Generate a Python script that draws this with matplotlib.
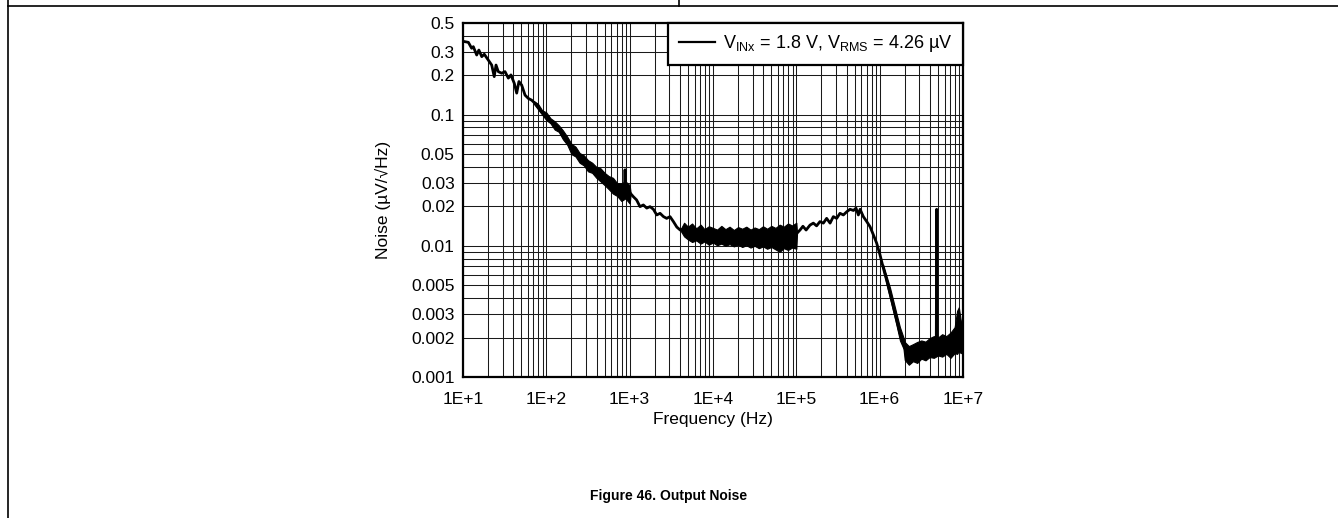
import numpy as np
import matplotlib
matplotlib.use("Agg")
import matplotlib.pyplot as plt
from matplotlib.lines import Line2D

plt.rcParams['font.family'] = ['Liberation Sans', 'DejaVu Sans']
plt.rcParams['mathtext.fontset'] = 'custom'
plt.rcParams['mathtext.rm'] = 'Liberation Sans'
plt.rcParams['mathtext.it'] = 'Liberation Sans'

# Output noise spectral density (uV/rtHz) versus frequency (Hz)
freq_hz = [
    10.6, 11.6, 12.7, 13.3, 14.6, 15.5, 16.8, 18.0, 20.1, 22.1, 23.7, 24.9,
    26.5, 29.1, 31.9, 35.0, 37.6, 41.3, 44.1, 46.9, 50.6, 55.5, 60.9, 66.7,
    76.2, 87.6, 100, 139, 200, 291, 417, 603, 794, 870, 880, 890, 1000,
    1107, 1210, 1330, 1460, 1603, 1754, 1925, 2113, 2317, 2545, 2780, 3050,
    3350, 3680, 4040, 4430, 6980, 11070, 17500, 27800, 44000, 63800, 91000,
    102000, 110700, 120000, 131000, 146000, 160000, 175000, 192000, 211000,
    231000, 254000, 278000, 305000, 334000, 367000, 403000, 441000, 485000,
    520000, 555000, 582000, 637000, 700000, 766000, 842000, 921000,
    1010000, 1107000, 1210000, 1330000, 1460000, 1600000, 1750000, 1930000,
    2100000, 2520000, 3330000, 4400000, 4780000, 4830000, 4880000,
    5860000, 7000000, 8000000, 9600000, 10000000,
]
noise_uv = [
    0.360, 0.356, 0.321, 0.330, 0.285, 0.311, 0.277, 0.289, 0.261, 0.239, 0.195, 0.239,
    0.213, 0.207, 0.213, 0.190, 0.201, 0.173, 0.146, 0.179, 0.168, 0.141, 0.133, 0.129,
    0.119, 0.105, 0.097, 0.0787, 0.0555, 0.0438, 0.0357, 0.0291, 0.0252, 0.0255, 0.038, 0.026, 0.0255,
    0.0237, 0.0224, 0.0199, 0.0205, 0.0194, 0.0199, 0.0190, 0.0172, 0.0177, 0.0167, 0.0162, 0.0167,
    0.0153, 0.0139, 0.0132, 0.0134, 0.0125, 0.0121, 0.0120, 0.0118, 0.0114, 0.0114, 0.0118,
    0.0125, 0.0132, 0.0141, 0.0132, 0.0144, 0.0149, 0.0142, 0.0153, 0.0149,
    0.0162, 0.0149, 0.0167, 0.0162, 0.0177, 0.0172, 0.0182, 0.0190, 0.0186,
    0.0194, 0.0172, 0.0190, 0.0167, 0.0153, 0.0140, 0.0121, 0.01047,
    0.00853, 0.00675, 0.0055, 0.00435, 0.00344, 0.00272, 0.00216, 0.00181,
    0.0015, 0.00154, 0.00166, 0.00178, 0.0018, 0.019, 0.0018,
    0.00182, 0.00182, 0.0021, 0.0020, 0.0019,
]

# Spread of the measured trace in its noisy stretches (lower / upper envelope)
band1_freq = [70.8, 79.4, 89.1, 100, 112, 126, 141, 158, 178, 200, 224, 251, 282,
              316, 355, 398, 447, 501, 562, 631, 708, 794, 891, 1000, 1030]
band1_lo = [0.121, 0.110, 0.100, 0.091, 0.086, 0.077, 0.074, 0.065, 0.059, 0.050, 0.048,
            0.043, 0.041, 0.037, 0.036, 0.033, 0.031, 0.029, 0.027, 0.025, 0.024, 0.022,
            0.023, 0.021, 0.025]
band1_hi = [0.127, 0.121, 0.108, 0.104, 0.094, 0.089, 0.083, 0.076, 0.068, 0.060, 0.057,
            0.051, 0.049, 0.045, 0.043, 0.040, 0.039, 0.036, 0.034, 0.033, 0.030, 0.030,
            0.031, 0.029, 0.025]

band2_freq = [4040, 4500, 5000, 5600, 6300, 7100, 7900, 8900, 10000, 11200, 12600,
              14100, 15800, 17800, 20000, 22400, 25100, 28200, 31600, 35500, 39800,
              44700, 50100, 56200, 63100, 70800, 79400, 89100, 100000, 102000]
band2_lo = [0.0132, 0.0118, 0.0112, 0.0107, 0.0110, 0.0104, 0.0108, 0.0102, 0.0106,
            0.0101, 0.0104, 0.0100, 0.0103, 0.0099, 0.0102, 0.0098, 0.0101, 0.0097,
            0.0100, 0.0096, 0.0099, 0.0095, 0.0098, 0.0094, 0.0090, 0.0096, 0.0093,
            0.0097, 0.0095, 0.0125]
band2_hi = [0.0132, 0.0150, 0.0140, 0.0148, 0.0136, 0.0145, 0.0134, 0.0141, 0.0137,
            0.0133, 0.0142, 0.0134, 0.0140, 0.0132, 0.0139, 0.0135, 0.0140, 0.0133,
            0.0138, 0.0134, 0.0141, 0.0135, 0.0142, 0.0137, 0.0145, 0.0140, 0.0148,
            0.0143, 0.0150, 0.0125]

band3_freq = [1100000, 1330000, 1600000, 1750000, 1930000, 2000000, 2240000, 2510000,
              2820000, 3160000, 3550000, 3980000, 4470000, 5010000, 5620000, 6310000,
              7080000, 7940000, 8500000, 8910000, 9400000, 10000000]
band3_lo = [0.0066, 0.0040, 0.00245, 0.0019, 0.00165, 0.00135, 0.00124, 0.00132,
            0.00128, 0.00138, 0.00134, 0.00142, 0.00140, 0.00146, 0.00143, 0.00150,
            0.00140, 0.00152, 0.00150, 0.00158, 0.00152, 0.0016]
band3_hi = [0.0072, 0.0048, 0.0030, 0.0024, 0.0020, 0.00185, 0.00172, 0.00178,
            0.00185, 0.00190, 0.00186, 0.00198, 0.00205, 0.00200, 0.00212, 0.00205,
            0.00218, 0.00240, 0.0032, 0.0034, 0.0027, 0.0026]

x_ticks = [1e1, 1e2, 1e3, 1e4, 1e5, 1e6, 1e7]
x_tick_labels = ["1E+1", "1E+2", "1E+3", "1E+4", "1E+5", "1E+6", "1E+7"]
y_ticks = [0.001, 0.002, 0.003, 0.005, 0.01, 0.02, 0.03, 0.05, 0.1, 0.2, 0.3, 0.5]
y_tick_labels = ["0.001", "0.002", "0.003", "0.005", "0.01", "0.02", "0.03",
                 "0.05", "0.1", "0.2", "0.3", "0.5"]
legend_label = r"$\mathregular{V_{INx}}$ = 1.8 V, $\mathregular{V_{RMS}}$ = 4.26 µV"
caption = "Figure 46. Output Noise"

FS = 12.5

fig = plt.figure(figsize=(13.38, 5.18), dpi=100)
ax = fig.add_axes([463 / 1338, 1 - 377 / 518, 500 / 1338, 354 / 518])

ax.set_xscale("log")
ax.set_yscale("log")
ax.set_xlim(1e1, 1e7)
ax.set_ylim(0.001, 0.5)

# minor grid positions: every 1..9 multiple in each decade
x_minor = [m * 10.0 ** d for d in range(1, 7) for m in range(2, 10)]
y_minor = [m * 10.0 ** d for d in range(-3, 0) for m in range(1, 10)
           if 0.001 <= m * 10.0 ** d <= 0.5 and not any(np.isclose(m * 10.0 ** d, y_ticks))]

ax.set_xticks(x_ticks)
ax.set_xticklabels(x_tick_labels)
ax.set_xticks(x_minor, minor=True)
ax.set_yticks(y_ticks)
ax.set_yticklabels(y_tick_labels)
ax.set_yticks(y_minor, minor=True)
ax.tick_params(which="both", length=0)
ax.tick_params(axis="x", which="major", labelsize=FS, pad=10.5)
ax.tick_params(axis="y", which="major", labelsize=FS, pad=6)
ax.tick_params(which="minor", labelbottom=False, labelleft=False)
ax.grid(True, which="both", color="#1a1a1a", linewidth=0.75)
ax.set_axisbelow(True)

for sp in ax.spines.values():
    sp.set_linewidth(1.6)
    sp.set_color("black")
    sp.set_zorder(5)

for bf, lo, hi in ((band1_freq, band1_lo, band1_hi),
                   (band2_freq, band2_lo, band2_hi),
                   (band3_freq, band3_lo, band3_hi)):
    ax.fill_between(bf, lo, hi, color="black", linewidth=0.8, edgecolor="black", zorder=3)

ax.plot(freq_hz, noise_uv, color="black", linewidth=2.0, zorder=4, label=legend_label)

ax.set_xlabel("Frequency (Hz)", fontsize=FS)
ax.set_ylabel("Noise (µV/√Hz)", fontsize=FS)
ax.xaxis.set_label_coords(0.5, -0.1)
ax.yaxis.set_label_coords(-0.144, 0.5)

leg = ax.legend(loc="upper right", borderaxespad=0, fontsize=13.0, frameon=True,
                fancybox=False, edgecolor="black", framealpha=1,
                handlelength=2.0, handletextpad=0.45, borderpad=0.58)
leg.get_frame().set_linewidth(1.6)
leg.set_zorder(6)
for h in leg.get_lines():
    h.set_linewidth(1.6)

fig.text(0.5, 1 - 496 / 518, caption, ha="center", va="center",
         fontsize=10, fontweight="bold")

# page rules framing the figure
fig.add_artist(Line2D([8 / 1338, 1], [1 - 6 / 518, 1 - 6 / 518],
                      transform=fig.transFigure, color="black", linewidth=1.2))
fig.add_artist(Line2D([8 / 1338, 8 / 1338], [0, 1],
                      transform=fig.transFigure, color="black", linewidth=1.2))
fig.add_artist(Line2D([679 / 1338, 679 / 1338], [1 - 6 / 518, 1],
                      transform=fig.transFigure, color="black", linewidth=1.2))

fig.savefig("out.png", dpi=100)
